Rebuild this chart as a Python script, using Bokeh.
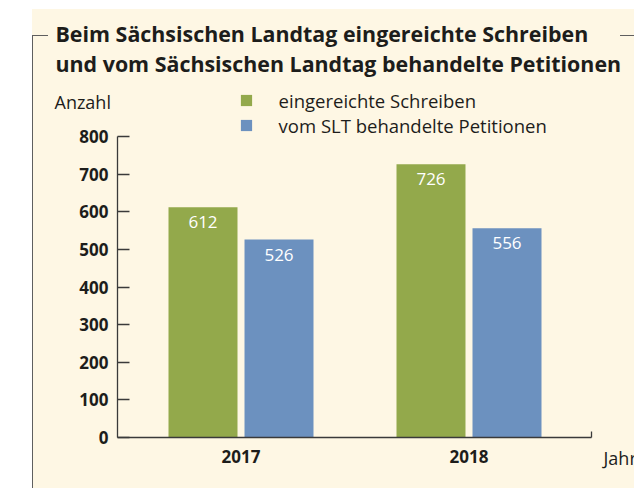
from bokeh.plotting import figure
from bokeh.models import (ColumnDataSource, Range1d, FixedTicker, Label, Legend, LegendItem)
from bokeh.core.properties import value
from bokeh.embed import file_html
from bokeh.resources import INLINE

# ---- data ----
years = ["2017", "2018"]
eingereicht = [612, 726]
behandelt = [526, 556]
y_ticks = [0, 100, 200, 300, 400, 500, 600, 700, 800]
series_names = ["eingereichte Schreiben", "vom SLT behandelte Petitionen"]
title_lines = ["Beim Sächsischen Landtag eingereichte Schreiben",
               "und vom Sächsischen Landtag behandelte Petitionen"]
y_label = "Anzahl"
x_label = "Jahr"

# ---- style ----
CREAM = "#FEF7E4"
GREEN = "#93A94B"
BLUE = "#6C91BF"
DARK = "#1d1d1b"
AXIS = "#3a3a3a"
FRAME = "#5f5f5f"
TXT_FONT = "Open Sans"
NUM_FONT = "Open Sans"

W, H = 634, 488
FRAME_TOP = 82      # top of the plotting frame (px)
AXIS_TOP = 136      # pixel position of the 800 tick
AXIS_BOTTOM = 437   # pixel position of the 0 tick
y_max_tick = y_ticks[-1]
y_top = y_max_tick * (AXIS_BOTTOM - FRAME_TOP) / (AXIS_BOTTOM - AXIS_TOP)

x_centers = [i + 0.5 for i in range(len(years))]
x_start, x_end = -0.0417, 2.0373
offset = 0.1667
bar_w = 0.3026

css = f"""
:host {{ background: linear-gradient({CREAM}, {CREAM}) 32px 9px / 100% 100% no-repeat, white; }}
:host::before {{ content: ""; position: absolute; left: 32px; top: 35px; width: 15px; bottom: 0;
  border-left: 1.5px solid {FRAME}; border-top: 1.5px solid {FRAME}; pointer-events: none; }}
:host::after {{ content: ""; position: absolute; left: 620px; top: 35px; right: 0; height: 0;
  border-top: 1.5px solid {FRAME}; pointer-events: none; }}
"""

p = figure(width=W, height=H, output_backend="svg", toolbar_location=None,
           x_range=Range1d(x_start, x_end), y_range=Range1d(0, y_top),
           min_border_left=117, min_border_right=43, min_border_top=FRAME_TOP,
           min_border_bottom=H - AXIS_BOTTOM,
           border_fill_alpha=0, background_fill_alpha=0, outline_line_color=None,
           stylesheets=[css])
p.xgrid.visible = False
p.ygrid.visible = False

src = ColumnDataSource(dict(
    xg=[x - offset for x in x_centers], xb=[x + offset for x in x_centers],
    g=eingereicht, b=behandelt,
    gt=[str(v) for v in eingereicht], bt=[str(v) for v in behandelt]))

rg = p.vbar(x="xg", top="g", width=bar_w, source=src, fill_color=GREEN, line_color=None)
rb = p.vbar(x="xb", top="b", width=bar_w, source=src, fill_color=BLUE, line_color=None)

for xcol, ycol, tcol in [("xg", "g", "gt"), ("xb", "b", "bt")]:
    p.text(x=xcol, y=ycol, text=tcol, source=src, text_align="center", text_baseline="middle",
           y_offset=15, text_color="white", text_font=value(NUM_FONT), text_font_size="17px")

ya = p.yaxis[0]
ya.ticker = FixedTicker(ticks=y_ticks)
ya.bounds = (y_ticks[0], y_ticks[-1])
ya.axis_line_color = AXIS
ya.axis_line_width = 1.3
ya.major_tick_line_color = AXIS
ya.major_tick_line_width = 1.3
ya.major_tick_in = 12
ya.major_tick_out = 0
ya.minor_tick_line_color = None
ya.major_label_standoff = 9
ya.major_label_text_font = NUM_FONT
ya.major_label_text_font_style = "bold"
ya.major_label_text_font_size = "17px"
ya.major_label_text_color = DARK

xa = p.xaxis[0]
xa.ticker = FixedTicker(ticks=x_centers, minor_ticks=[x_end - 1e-6])
xa.major_label_overrides = {x: y for x, y in zip(x_centers, years)}
xa.axis_line_color = AXIS
xa.axis_line_width = 1.3
xa.major_tick_line_color = None
xa.major_tick_in = 0
xa.major_tick_out = 0
xa.minor_tick_line_color = AXIS
xa.minor_tick_line_width = 1.3
xa.minor_tick_in = 6
xa.minor_tick_out = 0
xa.major_label_standoff = 12
xa.major_label_text_font = NUM_FONT
xa.major_label_text_font_style = "bold"
xa.major_label_text_font_size = "17px"
xa.major_label_text_color = DARK

# legend inside the (upward-extended) frame
legend = Legend(items=[LegendItem(label=series_names[0], renderers=[rg]),
                       LegendItem(label=series_names[1], renderers=[rb])],
                location=(238.6 - 117, AXIS_BOTTOM - 137.5), padding=0, margin=0, spacing=0,
                glyph_width=14, glyph_height=14, label_height=21, label_standoff=26,
                label_text_font=TXT_FONT, label_text_font_size="18.5px", label_text_color=DARK,
                background_fill_alpha=0, border_line_color=None)
p.add_layout(legend, "center")

# texts outside the frame, in side panels (canvas coordinates)
for i, line in enumerate(title_lines):
    p.add_layout(Label(x=55, y=33 + 30 * i, x_units="canvas", y_units="canvas", text=line,
                       text_font=TXT_FONT, text_font_style="bold", text_font_size="21.4px",
                       text_color=DARK, text_baseline="middle"), "above")
p.add_layout(Label(x=54, y=101, x_units="canvas", y_units="canvas", text=y_label,
                   text_font=TXT_FONT, text_font_size="18px", text_color=DARK,
                   text_baseline="middle"), "left")
p.add_layout(Label(x=603, y=457, x_units="canvas", y_units="canvas", text=x_label,
                   text_font=TXT_FONT, text_font_size="18px", text_color=DARK,
                   text_baseline="middle"), "right")

open("out.html", "w").write(file_html(p, INLINE))
